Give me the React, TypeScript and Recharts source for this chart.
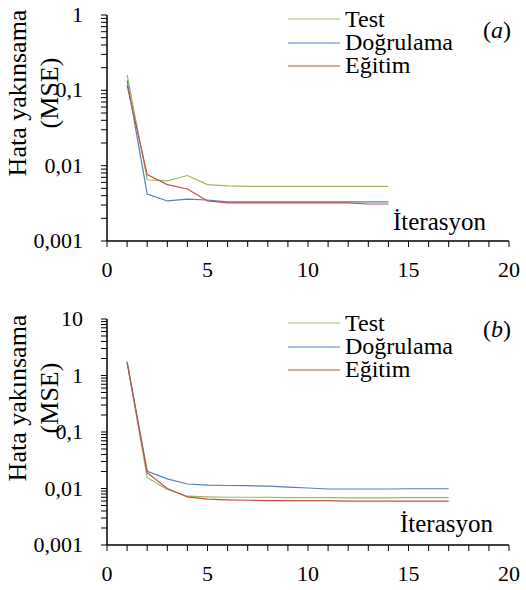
import React from 'react';
import { LineChart, Line, XAxis, YAxis, Legend, Label } from 'recharts';

const serif = 'Liberation Serif, Tinos, Times New Roman, serif';

// (a)
const iterA = [1, 2, 3, 4, 5, 6, 7, 8, 9, 10, 11, 12, 13, 14];
const testA = [0.16, 0.0065, 0.0063, 0.0074, 0.0056, 0.0054, 0.0053, 0.0053, 0.0053, 0.0053, 0.0053, 0.0053, 0.0053, 0.0053];
const valA = [0.136, 0.0042, 0.0034, 0.0036, 0.0035, 0.0033, 0.0033, 0.0033, 0.0033, 0.0033, 0.0033, 0.0033, 0.0033, 0.0033];
const trainA = [0.116, 0.0076, 0.0056, 0.0049, 0.0034, 0.0032, 0.0032, 0.0032, 0.0032, 0.0032, 0.0032, 0.0032, 0.0031, 0.0031];

// (b)
const iterB = [1, 2, 3, 4, 5, 6, 7, 8, 9, 10, 11, 12, 13, 14, 15, 16, 17];
const testB = [1.78, 0.0155, 0.0096, 0.0073, 0.0071, 0.007, 0.007, 0.007, 0.0069, 0.0069, 0.0069, 0.0068, 0.0068, 0.0068, 0.0069, 0.0069, 0.0069];
const valB = [1.7, 0.0202, 0.0148, 0.012, 0.0115, 0.0113, 0.0112, 0.011, 0.0106, 0.0102, 0.0098, 0.0098, 0.0098, 0.0098, 0.0099, 0.0099, 0.0099];
const trainB = [1.7, 0.019, 0.01, 0.0071, 0.0065, 0.0063, 0.0062, 0.0061, 0.0061, 0.0061, 0.0061, 0.006, 0.006, 0.006, 0.006, 0.006, 0.006];

const decadesA = [0.001, 0.01, 0.1, 1];
const decadesB = [0.001, 0.01, 0.1, 1, 10];
const xTicks = [0, 1, 2, 3, 4, 5, 6, 7, 8, 9, 10, 11, 12, 13, 14, 15, 16, 17, 18, 19, 20];
const xLabelTicks = [0, 5, 10, 15, 20];

const seriesNames = ['Test', 'Doğrulama', 'Eğitim'];
const colors = ['#9BBB59', '#4F81BD', '#C0504D'];

// log minor ticks 1..9 in each decade
const withMinor = (decades: number[]) => {
  const out: number[] = [];
  decades.forEach((d, i) => {
    if (i === decades.length - 1) { out.push(d); return; }
    for (let m = 1; m < 10; m++) out.push(m * d);
  });
  return out;
};

const fmt = (v: number) => String(v).replace('.', ',');

const YTick = ({ x, y, payload, decades }: any) => {
  const v = payload.value;
  const hit = decades.find((d: number) => Math.abs(d - v) / d < 1e-6);
  if (hit === undefined) return <g />;
  return (
    <text x={x} y={y} dy={7} textAnchor="end" fontSize={22} style={{ fontFamily: serif }} fill="#000">
      {fmt(hit)}
    </text>
  );
};

const XTick = ({ x, y, payload }: any) => {
  if (!xLabelTicks.includes(payload.value)) return <g />;
  return (
    <text x={x} y={y} dy={28} textAnchor="middle" fontSize={22} style={{ fontFamily: serif }} fill="#000">
      {payload.value}
    </text>
  );
};

const LegendBox = () => (
  <div style={{ fontFamily: serif, fontSize: 24, color: '#000' }}>
    {seriesNames.map((n, i) => (
      <div key={n} style={{ display: 'flex', alignItems: 'center', height: 23.4, lineHeight: '23.4px', whiteSpace: 'nowrap' }}>
        <svg width={57} height={4} style={{ display: 'block' }}>
          <line x1={0} y1={2} x2={52} y2={2} stroke={colors[i]} strokeWidth={1.2} />
        </svg>
        <span>{n}</span>
      </div>
    ))}
  </div>
);

const YTitle = ({ cy }: { cy: number }) => (
  <g style={{ fontFamily: serif }} fontSize={26} fill="#000">
    <text x={26} y={cy} textAnchor="middle" transform={`rotate(-90, 26, ${cy})`}>Hata yakınsama</text>
    <text x={58} y={cy} textAnchor="middle" transform={`rotate(-90, 58, ${cy})`}>(MSE)</text>
  </g>
);

type PanelProps = {
  iters: number[];
  test: number[];
  val: number[];
  train: number[];
  decades: number[];
  top: number;
  xAxisHeight: number;
  legendTop: number;
  titleY: number;
  iterDx: number;
  iterDy: number;
  tag: string;
  tagTop: number;
};

const Panel = (p: PanelProps) => {
  const data = p.iters.map((x, i) => ({ x, test: p.test[i], val: p.val[i], train: p.train[i] }));
  const ticks = withMinor(p.decades);
  return (
    <div style={{ position: 'relative', width: 526, height: 295 }}>
      <LineChart width={526} height={295} data={data} margin={{ top: p.top, right: 17, left: 0, bottom: 0 }}>
        <XAxis
          dataKey="x"
          type="number"
          domain={[0, 20]}
          ticks={xTicks}
          interval={0}
          height={p.xAxisHeight}
          tickSize={6}
          axisLine={{ stroke: '#000', strokeWidth: 1.5 }}
          tickLine={{ stroke: '#000' }}
          tick={<XTick />}
          allowDataOverflow
        >
          <Label
            content={({ viewBox }: any) => (
              <text x={viewBox.x + p.iterDx} y={viewBox.y + p.iterDy} fontSize={25} style={{ fontFamily: serif }} fill="#000">
                İterasyon
              </text>
            )}
          />
        </XAxis>
        <YAxis
          type="number"
          scale="log"
          domain={[p.decades[0], p.decades[p.decades.length - 1]]}
          ticks={ticks}
          interval={0}
          width={107}
          tickSize={6}
          tickMargin={18}
          axisLine={{ stroke: '#000', strokeWidth: 1.5 }}
          tickLine={{ stroke: '#000' }}
          tick={<YTick decades={p.decades} />}
          allowDataOverflow
        >
          <Label content={() => <YTitle cy={p.titleY} />} />
        </YAxis>
        <Legend
          layout="vertical"
          verticalAlign="middle"
          align="center"
          content={<LegendBox />}
          wrapperStyle={{ left: 288, top: p.legendTop, width: 200 }}
        />
        <Line dataKey="test" name={seriesNames[0]} stroke={colors[0]} strokeWidth={1.2} dot={false} isAnimationActive={false} />
        <Line dataKey="val" name={seriesNames[1]} stroke={colors[1]} strokeWidth={1.2} dot={false} isAnimationActive={false} />
        <Line dataKey="train" name={seriesNames[2]} stroke={colors[2]} strokeWidth={1.2} dot={false} isAnimationActive={false} />
      </LineChart>
      <div style={{ position: 'absolute', left: 483, top: p.tagTop, fontFamily: serif, fontSize: 24, lineHeight: '24px' }}>
        (<i>{p.tag}</i>)
      </div>
    </div>
  );
};

export default function App() {
  return (
    <div style={{ position: 'absolute', left: 0, top: 0, width: 526, height: 590, background: '#fff' }}>
      <Panel
        iters={iterA}
        test={testA}
        val={valA}
        train={trainA}
        decades={decadesA}
        top={15}
        xAxisHeight={54}
        legendTop={7.6}
        titleY={93}
        iterDx={286}
        iterDy={-11}
        tag="a"
        tagTop={18}
      />
      <Panel
        iters={iterB}
        test={testB}
        val={valB}
        train={trainB}
        decades={decadesB}
        top={24}
        xAxisHeight={45}
        legendTop={16.6}
        titleY={103}
        iterDx={293}
        iterDy={-13}
        tag="b"
        tagTop={22}
      />
    </div>
  );
}
